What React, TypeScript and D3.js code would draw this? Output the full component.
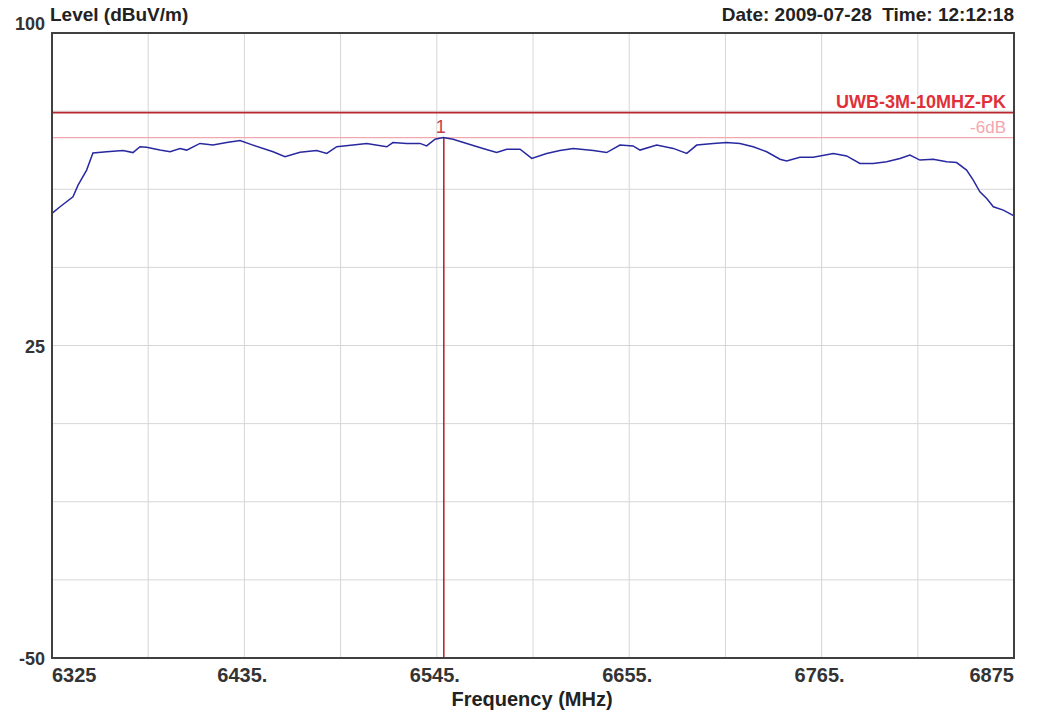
import React, { useEffect, useRef } from 'react';
import * as d3 from 'd3';

// trace (MHz, dBuV/m)
const freqs = [
  6325, 6329.6, 6337.0, 6339.9, 6344.8, 6348.4, 6356.3, 6365.6, 6371.3, 6375.3,
  6379.1, 6386.7, 6392.5, 6398.2, 6402.0, 6409.6, 6417.0, 6424.9, 6432.5, 6439.9,
  6451.4, 6458.2, 6466.8, 6476.3, 6482.1, 6487.8, 6497.1, 6504.9, 6516.4, 6519.9,
  6527.8, 6535.4, 6539.2, 6544.0, 6548.7, 6554.3, 6562.1, 6571.4, 6579.2, 6585.0,
  6592.6, 6599.3, 6607.8, 6615.4, 6623.0, 6634.5, 6642.1, 6649.7, 6657.2, 6661.2,
  6670.7, 6680.2, 6687.9, 6693.6, 6703.1, 6710.7, 6718.3, 6725.9, 6733.6, 6741.2,
  6745.0, 6752.6, 6760.2, 6771.7, 6779.3, 6786.9, 6794.5, 6802.2, 6809.8, 6815.5,
  6821.2, 6828.8, 6836.5, 6842.2, 6847.9, 6851.7, 6855.5, 6859.4, 6863.2, 6868.9,
  6874.2, 6875,
];
const levels = [
  56.7, 58.3, 60.7, 63.5, 67.1, 71.2, 71.5, 71.8, 71.3, 72.7,
  72.6, 71.9, 71.5, 72.3, 71.9, 73.5, 73.1, 73.7, 74.2, 73.1,
  71.5, 70.3, 71.4, 71.8, 71.1, 72.7, 73.1, 73.5, 72.7, 73.7,
  73.5, 73.5, 72.9, 74.5, 74.9, 74.5, 73.5, 72.3, 71.3, 72.1,
  72.1, 69.9, 71.1, 71.8, 72.3, 71.8, 71.3, 73.1, 72.9, 71.9,
  73.1, 72.3, 71.1, 73.1, 73.5, 73.7, 73.5, 72.7, 71.5, 69.7,
  69.3, 70.2, 70.2, 71.1, 70.5, 68.7, 68.7, 69.1, 69.9, 70.7,
  69.5, 69.7, 69.1, 68.9, 67.1, 64.7, 61.9, 60.3, 58.3, 57.5,
  56.3, 56.1,
];

const xTicks = [6325, 6435, 6545, 6655, 6765, 6875];
const xTickLabels = ['6325', '6435.', '6545.', '6655.', '6765.', '6875'];
const yTicks = [100, 25, -50];
const limitLevel = 80.9;
const limitName = 'UWB-3M-10MHZ-PK';
const offsetLevel = 74.9;
const offsetName = '-6dB';
const markerFreq = 6549;
const markerLevel = 74.9;
const markerName = '1';

const App = () => {
  const ref = useRef<SVGSVGElement | null>(null);

  useEffect(() => {
    const W = 1039;
    const H = 716;
    const margin = { top: 33, right: 25, bottom: 58, left: 52 };
    const width = W - margin.left - margin.right;
    const height = H - margin.top - margin.bottom;
    const font = 'Arial, "Liberation Sans", sans-serif';

    const svg = d3.select(ref.current);
    svg.selectAll('*').remove();
    svg.attr('width', W).attr('height', H);

    const x = d3.scaleLinear().domain([6325, 6875]).range([0, width]);
    const y = d3.scaleLinear().domain([-50, 100]).range([height, 0]);

    const chart = svg.append('g')
      .attr('transform', `translate(${margin.left},${margin.top})`);

    // grid lines
    chart.append('g').selectAll('line')
      .data(d3.range(6325, 6875.1, 55))
      .enter().append('line')
      .attr('x1', (d) => x(d)).attr('x2', (d) => x(d))
      .attr('y1', 0).attr('y2', height)
      .attr('stroke', '#d6d6d6').attr('stroke-width', 1);

    chart.append('g').selectAll('line')
      .data(d3.range(-50, 100.1, 18.75))
      .enter().append('line')
      .attr('x1', 0).attr('x2', width)
      .attr('y1', (d) => y(d)).attr('y2', (d) => y(d))
      .attr('stroke', '#d6d6d6').attr('stroke-width', 1);

    // limit + offset lines
    chart.append('line')
      .attr('x1', 0).attr('x2', width)
      .attr('y1', y(limitLevel)).attr('y2', y(limitLevel))
      .attr('stroke', '#b8282e').attr('stroke-width', 1.6);
    chart.append('text')
      .attr('x', width - 8).attr('y', y(limitLevel) - 5)
      .attr('text-anchor', 'end')
      .style('font', `bold 18px ${font}`)
      .attr('fill', '#e0303a')
      .text(limitName);

    chart.append('line')
      .attr('x1', 0).attr('x2', width)
      .attr('y1', y(offsetLevel)).attr('y2', y(offsetLevel))
      .attr('stroke', '#f4a6ae').attr('stroke-width', 1.4);
    chart.append('text')
      .attr('x', width - 8).attr('y', y(offsetLevel) - 5)
      .attr('text-anchor', 'end')
      .style('font', `17px ${font}`)
      .attr('fill', '#f4a6ae')
      .text(offsetName);

    // marker
    chart.append('line')
      .attr('x1', x(markerFreq)).attr('x2', x(markerFreq))
      .attr('y1', y(markerLevel)).attr('y2', height)
      .attr('stroke', '#b8282e').attr('stroke-width', 1.6);
    chart.append('text')
      .attr('x', x(markerFreq) - 3).attr('y', y(markerLevel) - 5)
      .attr('text-anchor', 'middle')
      .style('font', `18px ${font}`)
      .attr('fill', '#c8404a')
      .text(markerName);

    // trace
    const line = d3.line<number>()
      .curve(d3.curveLinear)
      .x((d, i) => x(freqs[i]))
      .y((d) => y(d));
    chart.append('path')
      .datum(levels)
      .attr('fill', 'none')
      .attr('stroke', '#2828a0')
      .attr('stroke-width', 1.5)
      .attr('d', line);

    // frame
    chart.append('rect')
      .attr('x', 0).attr('y', 0)
      .attr('width', width).attr('height', height)
      .attr('fill', 'none')
      .attr('stroke', '#404040')
      .attr('stroke-width', 2);

    // y tick labels
    chart.append('g').selectAll('text')
      .data(yTicks)
      .enter().append('text')
      .attr('x', -7)
      .attr('y', (d) => (d === 100 ? y(d) - 3 : y(d) + 7))
      .attr('text-anchor', 'end')
      .style('font', `bold 18px ${font}`)
      .attr('fill', '#333')
      .text((d) => String(d));

    // x tick labels
    chart.append('g').selectAll('text')
      .data(xTicks)
      .enter().append('text')
      .attr('x', (d, i) => (i === 0 ? x(d) : i === xTicks.length - 1 ? x(d) : x(d) - 2))
      .attr('y', height + 24)
      .attr('text-anchor', (d, i) => (i === 0 ? 'start' : i === xTicks.length - 1 ? 'end' : 'middle'))
      .style('font', `bold 20px ${font}`)
      .attr('fill', '#333')
      .text((d, i) => xTickLabels[i]);

    // titles
    svg.append('text')
      .attr('x', 50).attr('y', 21)
      .style('font', `bold 19px ${font}`)
      .attr('fill', '#222')
      .text('Level (dBuV/m)');
    svg.append('text')
      .attr('x', 1014).attr('y', 21)
      .attr('text-anchor', 'end')
      .style('font', `bold 19px ${font}`)
      .style('white-space', 'pre')
      .attr('fill', '#222')
      .text('Date: 2009-07-28  Time: 12:12:18');
    svg.append('text')
      .attr('x', 532).attr('y', 706)
      .attr('text-anchor', 'middle')
      .style('font', `bold 20px ${font}`)
      .attr('fill', '#222')
      .text('Frequency (MHz)');
  }, []);

  return (
    <svg ref={ref} style={{ position: 'absolute', left: 0, top: 0, background: '#fff' }} />
  );
};

export default App;
